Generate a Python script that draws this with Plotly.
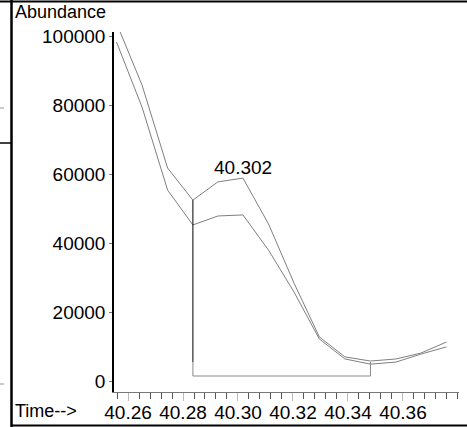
import plotly.graph_objects as go

# Retention times (min) of the scans shown
times = [40.2558, 40.2651, 40.2744, 40.2836, 40.2927, 40.3018, 40.3111,
         40.3204, 40.3296, 40.3389, 40.3482, 40.3575, 40.3665, 40.3758]

# Two ion traces (abundance)
upper = [103900, 85900, 61800, 52500, 57800, 58900, 45600,
         28400, 12800, 7000, 5800, 6400, 8100, 11300]
lower = [98400, 79500, 55400, 45300, 47900, 48200, 38000,
         25800, 12200, 6400, 4900, 5500, 7800, 9900]

# Integration: start/end scan index, baseline level, drop-line break
peak_start, peak_end = 3, 10
baseline = 1450
drop_break = 5500
peak_label = "40.302"
peak_label_y = 62000

x_ticks = [40.26, 40.28, 40.30, 40.32, 40.34, 40.36]
y_ticks = [0, 20000, 40000, 60000, 80000, 100000]

W, H = 467, 427
L, R, T, B = 114, 8, 32, 35
FONT = "Liberation Sans, Arial, sans-serif"


def px(x):
    return (x - L) / (W - L - R)


def py(y):
    return (H - B - y) / (H - T - B)


fig = go.Figure()
fig.add_trace(go.Scatter(x=times, y=upper, mode="lines",
                         line=dict(color="#7f7f7f", width=1)))
fig.add_trace(go.Scatter(x=times, y=lower, mode="lines",
                         line=dict(color="#7f7f7f", width=1)))

t0, t1 = times[peak_start], times[peak_end]
# black drop line from the curve at peak start
fig.add_trace(go.Scatter(x=[t0, t0], y=[upper[peak_start], drop_break],
                         mode="lines", line=dict(color="black", width=1)))
# gray baseline
fig.add_trace(go.Scatter(x=[t0, t0, t1, t1],
                         y=[drop_break, baseline, baseline, drop_break],
                         mode="lines", line=dict(color="#8a8a8a", width=1)))

fig.add_annotation(x=times[5], y=peak_label_y, text=peak_label, showarrow=False,
                   font=dict(size=19, color="black", family=FONT))

fig.add_annotation(xref="paper", yref="paper", x=px(13), y=py(12),
                   xanchor="left", yanchor="middle", text="Abundance",
                   showarrow=False, font=dict(size=18, color="black", family=FONT))
fig.add_annotation(xref="paper", yref="paper", x=px(13), y=py(411),
                   xanchor="left", yanchor="middle", text="Time-->",
                   showarrow=False, font=dict(size=18, color="black", family=FONT))

# frame lines around the picture
frame = [
    (0, 1.5, 467, 1.5, "black", 2),
    (11.5, 0, 11.5, 427, "black", 2.5),
    (11.5, 425.5, 467, 425.5, "black", 2),
    (0, 143, 11.5, 143, "black", 1.5),
    (0, 108, 4, 108, "#999999", 1),
    (0, 384, 4, 384, "#999999", 1),
]
for x0, y0, x1, y1, c, w in frame:
    fig.add_shape(type="line", xref="paper", yref="paper",
                  x0=px(x0), y0=py(y0), x1=px(x1), y1=py(y1),
                  line=dict(color=c, width=w))

fig.update_layout(
    width=W, height=H,
    margin=dict(l=L, r=R, t=T, b=B, autoexpand=False),
    paper_bgcolor="white", plot_bgcolor="white",
    showlegend=False, hovermode=False,
    font=dict(family=FONT, color="black", size=19),
    xaxis=dict(range=[40.2549, 40.3804], tickvals=x_ticks,
               ticktext=[f"{v:.2f}" for v in x_ticks],
               automargin=False,
               showgrid=False, zeroline=False,
               showline=True, linecolor="#777777", linewidth=1,
               ticks="outside", ticklen=8, tickcolor="#bbbbbb", tickwidth=1,
               ticklabelstandoff=-5,
               minor=dict(dtick=0.004, tick0=40.256, ticks="outside",
                          ticklen=6, tickcolor="#555555", tickwidth=1),
               tickfont=dict(size=19)),
    yaxis=dict(range=[-3190, 101300], tickvals=y_ticks,
               ticktext=[str(v) for v in y_ticks],
               automargin=False,
               showgrid=False, zeroline=False,
               showline=True, linecolor="black", linewidth=1.5,
               ticks="outside", ticklen=3, tickcolor="#777777",
               tickfont=dict(size=19)),
)

# drop the browser's default body margin so the figure fills the window
fig.write_html("out.html", config={"displayModeBar": False},
               post_script="document.body.style.margin='0';"
                           "document.body.style.overflow='hidden';")
